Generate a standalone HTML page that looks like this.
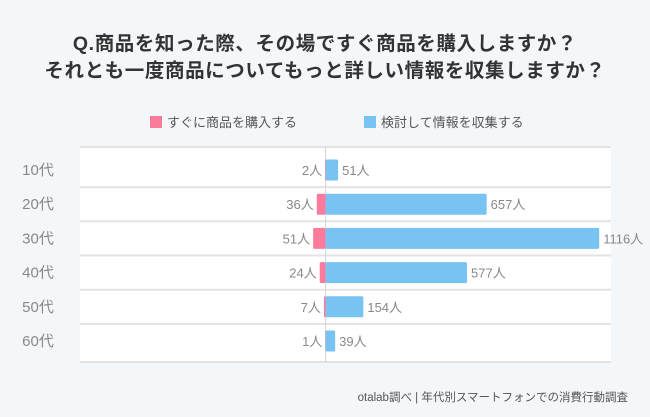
<!DOCTYPE html>
<html><head><meta charset="utf-8">
<style>
html,body{margin:0;padding:0}
body{width:650px;height:417px;background:#f4f7f9;font-family:"Liberation Sans","Noto Sans CJK JP",sans-serif;position:relative;overflow:hidden}
.title{position:absolute;left:0;width:650px;text-align:center;font-weight:bold;font-size:19.5px;color:#333;line-height:27px;top:31px;letter-spacing:0.6px}
svg{position:absolute;left:0;top:0}
</style></head><body>
<div class="title">Q.商品を知った際、その場ですぐ商品を購入しますか？<br>それとも一度商品についてもっと詳しい情報を収集しますか？</div>
<svg id="chart" width="650" height="417"></svg>
<script>
const categories=["10代","20代","30代","40代","50代","60代"];
const buyNow=[2,36,51,24,7,1];
const research=[51,657,1116,577,154,39];
const seriesNames=["すぐに商品を購入する","検討して情報を収集する"];
const NS="http://www.w3.org/2000/svg";
const svg=document.getElementById('chart');
function mk(t,a,p){const e=document.createElementNS(NS,t);for(const k in a)e.setAttribute(k,a[k]);(p||svg).appendChild(e);return e;}
const x0=325.6,scale=273.6/1116;
const xR=v=>x0+v*scale, xL=v=>x0-v*scale;
const rowY=i=>170+i*34.2;
const barH=21;
const bg=mk('rect',{x:80,y:147,width:531,height:215,fill:'#fff'});

const seps=[147];for(let i=0;i<categories.length-1;i++)seps.push((rowY(i)+rowY(i+1))/2);seps.push(362);
seps.forEach(y=>{const l=mk('line',{x1:80,x2:611,y1:y,y2:y,stroke:'#e3e3e3','stroke-width':2});
});
const z=mk('line',{x1:x0,x2:x0,y1:147,y2:362,stroke:'#d5d5d5','stroke-width':1});

categories.forEach((c,i)=>{
  const cy=rowY(i);
  const t=mk('text',{x:38,y:cy+5,'text-anchor':'middle','font-size':15,fill:'#888'});t.textContent=c;
  
  const bl=mk('rect',{x:xL(buyNow[i]),y:cy-barH/2,width:Math.max(buyNow[i]*scale,1),height:barH,fill:'#fb7b9b',rx:1.5});
  
  const br=mk('rect',{x:x0,y:cy-barH/2,width:research[i]*scale,height:barH,fill:'#78c3f2',rx:1.5});
  
  const lt=mk('text',{x:xL(buyNow[i])-3,y:cy+5,'text-anchor':'end','font-size':13,fill:'#888'});lt.textContent=buyNow[i]+'人';
  
  const rt=mk('text',{x:xR(research[i])+4,y:cy+5,'text-anchor':'start','font-size':13,fill:'#888'});rt.textContent=research[i]+'人';
  
});
const lg=[[150,'#fb7b9b'],[364,'#78c3f2']];
lg.forEach((L,i)=>{
  const r=mk('rect',{x:L[0],y:116,width:12,height:12,fill:L[1]});
  
  const t=mk('text',{x:L[0]+17,y:127,'font-size':13,fill:'#555'});t.textContent=seriesNames[i];
  
});
const f=mk('text',{x:628,y:401,'text-anchor':'end','font-size':11.5,fill:'#555'});f.textContent='otalab調べ | 年代別スマートフォンでの消費行動調査';

</script>
</body></html>
